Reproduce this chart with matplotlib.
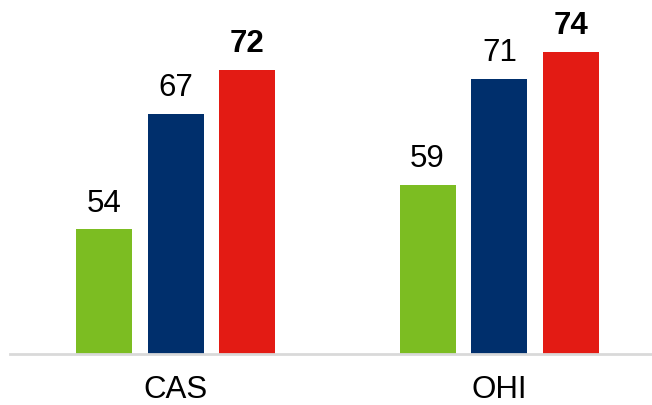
import numpy as np
import matplotlib.pyplot as plt

categories = ['CAS', 'OHI']
series_green = [54, 59]
series_navy = [67, 71]
series_red = [72, 74]
colors = ['#7CBD22', '#002F6C', '#E31B14']

plt.rcParams['font.family'] = ['Liberation Sans', 'DejaVu Sans']

fig = plt.figure(figsize=(6.52, 4.06), dpi=100)
ax = fig.add_axes([10/652, 51.5/406, 642/652, 354.5/406])

x = np.arange(len(categories))
pitch = 0.222
width = 0.173
all_series = [series_green, series_navy, series_red]
for i, (vals, c) in enumerate(zip(all_series, colors)):
    pos = x + (i - 1) * pitch
    ax.bar(pos, vals, width, color=c, zorder=2)
    for p, v in zip(pos, vals):
        bold = (i == 2)
        ax.annotate(str(v), (p, v), xytext=(0, 13.5), textcoords='offset points',
                    ha='center', va='baseline', fontsize=22.5,
                    fontweight='bold' if bold else 'normal')

ax.set_ylim(40, 80)
ax.set_xlim(-0.511, 1.471)
ax.set_xticks(x)
ax.set_xticklabels(categories, fontsize=22.5)
ax.tick_params(axis='x', length=0, pad=15)
ax.set_yticks([])
for s in ['top', 'right', 'left']:
    ax.spines[s].set_visible(False)
ax.spines['bottom'].set_color('#D9D9D9')
ax.spines['bottom'].set_linewidth(2)

fig.savefig('out.png', dpi=100)
